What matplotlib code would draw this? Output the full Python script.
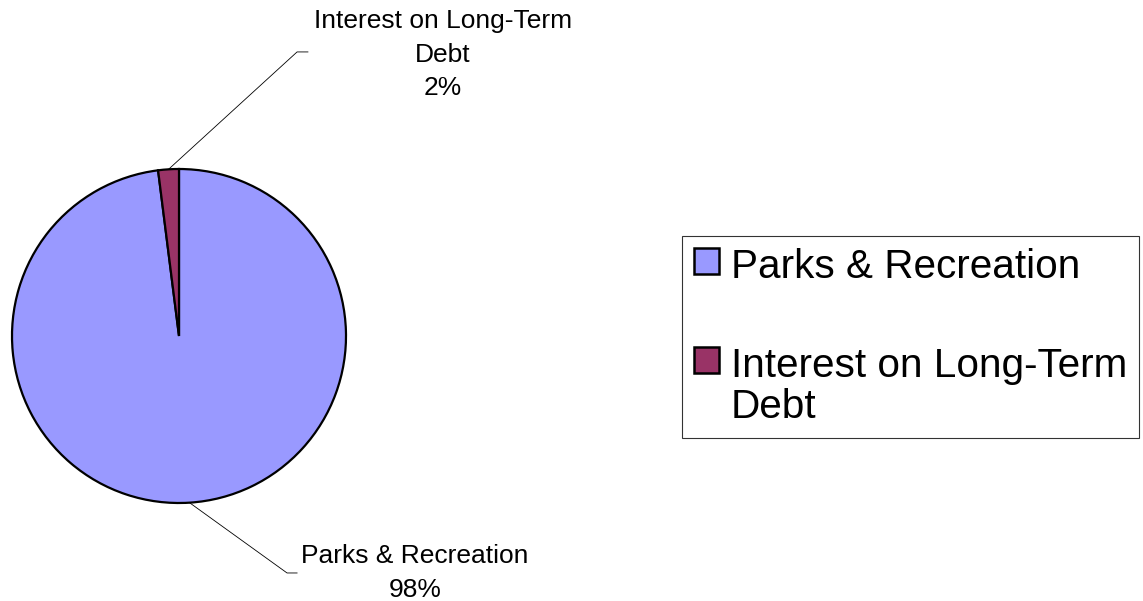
import numpy as np
import matplotlib.pyplot as plt

plt.rcParams['font.family'] = ['Liberation Sans', 'DejaVu Sans']

# Data
categories = ["Parks & Recreation", "Interest on Long-Term Debt"]
legend_labels = ["Parks & Recreation", "Interest on Long-Term\nDebt"]
pie_labels = ["Parks & Recreation\n98%", "Interest on Long-Term\nDebt\n2%"]
values = [98, 2]
colors = ["#9999FF", "#993366"]

W, H = 1143, 601
fig = plt.figure(figsize=(W / 100, H / 100), dpi=100)
fig.patch.set_facecolor("white")

# pie axes: centre (179, 336), radius 167 px
cx, cy, r = 179, 336, 167
ax = fig.add_axes([(cx - r) / W, (H - cy - r) / H, 2 * r / W, 2 * r / H])
wedges, _ = ax.pie(values, colors=colors, startangle=90, counterclock=False,
                   wedgeprops=dict(edgecolor="black", linewidth=1.6))
ax.set_xlim(-1, 1)
ax.set_ylim(-1, 1)
ax.set_aspect("equal")
ax.axis("off")

# label placement (data units, radius = 1): elbow point, end point, text centre
label_pos = [
    ((0.647, -1.419), (0.707, -1.419), (1.413, -1.42)),
    ((0.707, 1.701), (0.772, 1.701), (1.581, 1.685)),
]
for w, lab, (elbow, end, txt) in zip(wedges, pie_labels, label_pos):
    mid = np.deg2rad((w.theta1 + w.theta2) / 2)
    x0, y0 = np.cos(mid), np.sin(mid)
    ax.plot([x0, elbow[0], end[0]], [y0, elbow[1], end[1]], color="black",
            linewidth=0.6, clip_on=False)
    ax.text(txt[0], txt[1], lab, ha="center", va="center", multialignment="center",
            fontsize=19, linespacing=1.5, clip_on=False)

leg = fig.legend(wedges, legend_labels, loc="upper left",
                 bbox_to_anchor=(682 / W, 1 - 236 / H), borderaxespad=0,
                 fontsize=29.2, frameon=True, fancybox=False, shadow=False,
                 handlelength=0.62, handleheight=0.62, handletextpad=0.28,
                 borderpad=0.3, labelspacing=1.5)
leg.get_frame().set_edgecolor("black")
leg.get_frame().set_linewidth(0.8)
for t in leg.get_texts():
    t.set_linespacing(1.1)
for h in leg.legend_handles:
    h.set_linewidth(1.8)
for row in leg._legend_handle_box.get_children()[0].get_children():
    row.align = "top"

fig.savefig("out.png", dpi=100, facecolor="white")
